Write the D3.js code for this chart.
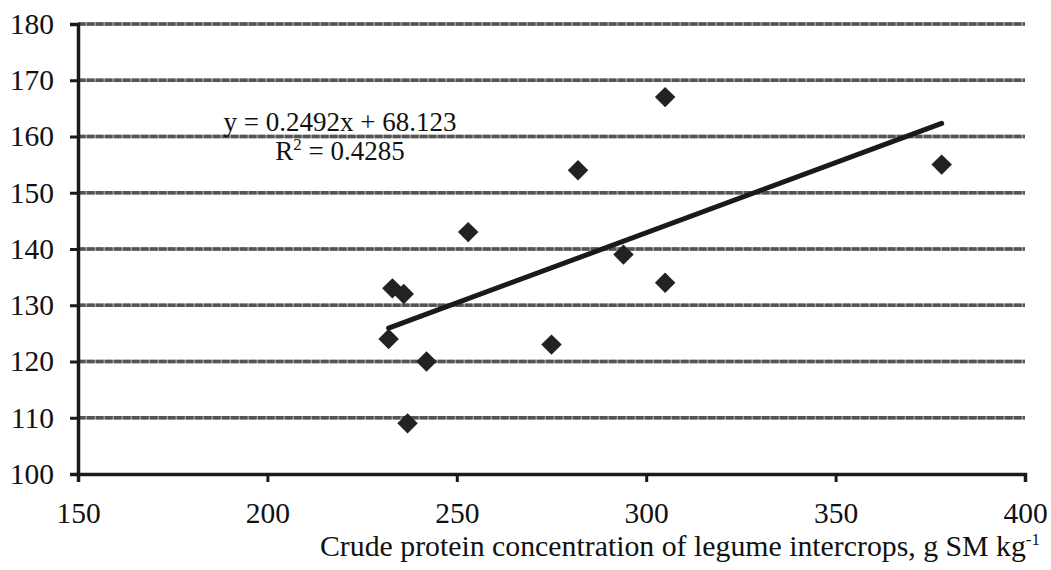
<!DOCTYPE html>
<html>
<head>
<meta charset="utf-8">
<script src="https://cdn.jsdelivr.net/npm/d3@7"></script>
<style>
	body { margin: 0; background: #fff; }
	svg text { font-family: "Liberation Serif", "Times New Roman", serif; fill: #111; }
</style>
</head>
<body>
<script>
// protein concentration (x) and value (y) of each intercrop
var proteinX = [232, 233, 236, 237, 242, 253, 275, 282, 294, 305, 305, 378];
var valueY   = [124, 133, 132, 109, 120, 143, 123, 154, 139, 134, 167, 155];

// linear trend as printed on the chart
var trendSlope = 0.2492;
var trendIntercept = 68.123;
var trendLabel = "y = 0.2492x + 68.123";
var r2Value = "0.4285";

var xTicks = [150, 200, 250, 300, 350, 400];
var yTicks = [100, 110, 120, 130, 140, 150, 160, 170, 180];
var xTitle = "Crude protein concentration of legume intercrops, g SM kg";

var width = 1051, height = 570;
var margin = {left: 78, right: 26, top: 24, bottom: 96};

var svg = d3.select("body").append("svg")
	.attr("width", width)
	.attr("height", height)
	.attr("font-family", "Liberation Serif, serif");

var x = d3.scaleLinear().domain([150, 400]).range([margin.left, width - margin.right]);
var y = d3.scaleLinear().domain([100, 180]).range([height - margin.bottom, margin.top]);

// gridlines: light base with darker dashes on top
var grid = svg.append("g");
var gridVals = yTicks.filter(function(d){ return d > 100; });
grid.selectAll(".gbase")
	.data(gridVals)
	.enter().append("line")
		.attr("class", "gbase")
		.attr("x1", x(150)).attr("x2", x(400))
		.attr("y1", function(d){ return y(d); })
		.attr("y2", function(d){ return y(d); })
		.style("stroke", "#9a9a9a")
		.style("stroke-width", 3.5);
grid.selectAll(".gdash")
	.data(gridVals)
	.enter().append("line")
		.attr("class", "gdash")
		.attr("x1", x(150)).attr("x2", x(400))
		.attr("y1", function(d){ return y(d); })
		.attr("y2", function(d){ return y(d); })
		.style("stroke", "#555")
		.style("stroke-width", 3.5)
		.style("stroke-dasharray", "7.5,1.5");

// axes
var yAxis = d3.axisLeft(y).tickValues(yTicks).tickSize(8).tickPadding(16);
var xAxis = d3.axisBottom(x).tickValues(xTicks).tickSize(8).tickPadding(20);

var gy = svg.append("g").attr("transform", "translate(" + x(150) + ",0)").call(yAxis);
var gx = svg.append("g").attr("transform", "translate(0," + y(100) + ")").call(xAxis);

[gx, gy].forEach(function(g){
	g.attr("font-family", null).attr("font-size", null);
	g.select(".domain").style("stroke", "#1a1a1a").style("stroke-width", 3.5);
	g.selectAll(".tick line").style("stroke", "#1a1a1a").style("stroke-width", 3);
	g.selectAll(".tick text")
		.style("font-size", "29.5px")
		.style("fill", "#111");
});

// trend line over the data range
var xr = d3.extent(proteinX);
svg.append("line")
	.attr("x1", x(xr[0])).attr("y1", y(trendSlope * xr[0] + trendIntercept))
	.attr("x2", x(xr[1])).attr("y2", y(trendSlope * xr[1] + trendIntercept))
	.style("stroke", "#1a1a1a")
	.style("stroke-width", 5)
	.style("stroke-linecap", "round");

// diamond markers
var diamond = d3.symbol().type(d3.symbolSquare).size(210);
svg.append("g").selectAll("path")
	.data(d3.zip(proteinX, valueY))
	.enter().append("path")
		.attr("d", diamond)
		.attr("transform", function(d){ return "translate(" + x(d[0]) + "," + y(d[1]) + ")rotate(45)"; })
		.style("fill", "#222");

// equation
svg.append("text")
	.attr("x", 340).attr("y", 131)
	.attr("text-anchor", "middle")
	.style("font-size", "27px")
	.text(trendLabel);

var r2 = svg.append("text")
	.attr("x", 340).attr("y", 160)
	.attr("text-anchor", "middle")
	.style("font-size", "27px");
r2.append("tspan").text("R");
r2.append("tspan").attr("dy", -10).style("font-size", "17px").text("2");
r2.append("tspan").attr("dy", 10).text(" = " + r2Value);

// x axis title
var xt = svg.append("text")
	.attr("x", 1040).attr("y", 556)
	.attr("text-anchor", "end")
	.style("font-size", "29.8px");
xt.append("tspan").text(xTitle);
xt.append("tspan").attr("dy", -11).style("font-size", "17px").text("-1");
</script>
</body>
</html>
